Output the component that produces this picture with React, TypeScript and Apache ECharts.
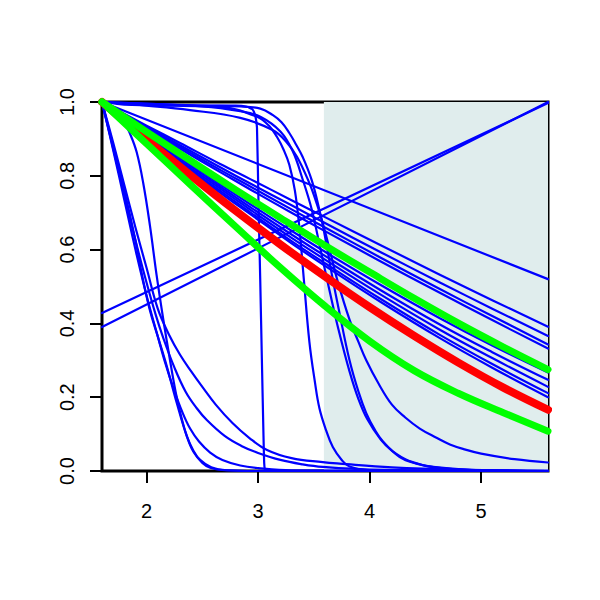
import React, { useEffect, useRef } from "react";
import * as echarts from "echarts";

// ---- axis ticks ----
const xTickValues = [2, 3, 4, 5];
const xMin = 1.6;
const xMax = 5.6;
const shadeFrom = 3.59;

// ---- early steep curves ----
const L1 = [[1.6,1],[1.7,0.89],[1.8,0.775],[1.9,0.66],[2.0,0.55],[2.1,0.44],[2.2,0.37],[2.3,0.315],[2.4,0.27],[2.5,0.228],[2.62,0.18],[2.77,0.13],[2.92,0.09],[3.08,0.057],[3.3,0.035],[3.58,0.024],[3.73,0.02],[4.2,0.01],[4.8,0.004],[5.6,0.001]];
const L2 = [[1.6,1],[1.7,0.875],[1.8,0.75],[1.9,0.625],[2.0,0.51],[2.08,0.425],[2.15,0.36],[2.25,0.28],[2.35,0.215],[2.45,0.17],[2.54,0.138],[2.7,0.095],[2.85,0.068],[3.0,0.049],[3.2,0.03],[3.4,0.018],[3.58,0.011],[4.0,0.004],[5.6,0]];
const L3 = [[1.6,1],[1.7,0.87],[1.8,0.735],[1.9,0.6],[2.0,0.475],[2.1,0.365],[2.17,0.29],[2.24,0.225],[2.32,0.16],[2.39,0.115],[2.47,0.08],[2.57,0.05],[2.68,0.03],[2.84,0.015],[3.0,0.008],[3.3,0.002],[5.6,0]];
const L4 = [[1.6,1],[1.7,0.88],[1.8,0.76],[1.9,0.625],[1.96,0.53],[2.03,0.435],[2.1,0.365],[2.18,0.285],[2.27,0.185],[2.36,0.095],[2.42,0.055],[2.48,0.03],[2.58,0.01],[2.72,0.002],[3.0,0],[5.6,0]];
const L5 = [[1.6,1],[1.68,0.99],[1.75,0.97],[1.8,0.945],[1.85,0.915],[1.91,0.865],[1.97,0.78],[2.03,0.665],[2.09,0.53],[2.15,0.41],[2.21,0.3],[2.26,0.215],[2.3,0.16],[2.36,0.095],[2.42,0.052],[2.5,0.022],[2.57,0.009],[2.7,0.002],[3.0,0],[5.6,0]];

// ---- late sigmoid drops ----
const VD = [[1.6,1],[1.8,0.993],[2.5,0.99],[2.8,0.99],[2.9,0.987],[2.95,0.98],[2.975,0.962],[2.99,0.93],[3.004,0.72],[3.019,0.52],[3.034,0.3],[3.048,0.1],[3.055,0.02],[3.065,0.003],[3.15,0],[5.6,0]];
const S1 = [[1.6,1],[2.3,0.99],[2.68,0.986],[2.99,0.96],[3.1,0.935],[3.17,0.905],[3.23,0.87],[3.28,0.83],[3.33,0.76],[3.37,0.66],[3.41,0.52],[3.46,0.35],[3.51,0.24],[3.55,0.17],[3.61,0.11],[3.67,0.065],[3.75,0.03],[3.82,0.012],[4.0,0.002],[5.6,0]];
const S2 = [[1.6,1],[2.5,0.99],[2.84,0.988],[3.02,0.982],[3.13,0.965],[3.21,0.945],[3.28,0.916],[3.34,0.885],[3.4,0.851],[3.48,0.789],[3.55,0.707],[3.61,0.62],[3.66,0.535],[3.73,0.428],[3.82,0.3],[3.9,0.215],[3.97,0.157],[4.05,0.11],[4.12,0.08],[4.27,0.038],[4.42,0.02],[4.57,0.011],[5.0,0.002],[5.6,0]];
const S3 = [[1.6,1],[2.5,0.988],[2.84,0.975],[3.02,0.96],[3.2,0.92],[3.31,0.867],[3.4,0.79],[3.48,0.71],[3.56,0.6],[3.64,0.49],[3.72,0.385],[3.82,0.27],[3.9,0.195],[3.98,0.14],[4.1,0.085],[4.2,0.055],[4.35,0.028],[4.6,0.009],[5.0,0.002],[5.6,0]];
const S4 = [[1.6,1],[2.0,0.99],[2.39,0.978],[2.84,0.957],[3.13,0.924],[3.25,0.893],[3.35,0.851],[3.46,0.78],[3.52,0.73],[3.58,0.672],[3.65,0.59],[3.71,0.518],[3.82,0.41],[3.9,0.35],[3.97,0.3],[4.08,0.237],[4.2,0.18],[4.32,0.145],[4.45,0.115],[4.6,0.09],[4.72,0.072],[4.86,0.058],[5.0,0.047],[5.3,0.032],[5.6,0.023]];

// ---- straight lines ----
const D1 = [[1.6,1],[5.6,0.52]];
const R1 = [[1.6,0.428],[5.6,0.997]];
const R2 = [[1.6,0.39],[5.6,1.0]];

// ---- gradual bundle ----
const bundleX = [1.6, 2.0, 2.3, 2.66, 2.93, 3.3, 3.6, 4.1, 4.63, 5.1, 5.6];
const B1 = [1, 0.936, 0.889, 0.832, 0.791, 0.734, 0.688, 0.612, 0.532, 0.463, 0.391];
const B2 = [1, 0.933, 0.883, 0.823, 0.779, 0.72, 0.672, 0.593, 0.511, 0.44, 0.366];
const B3 = [1, 0.93, 0.878, 0.816, 0.771, 0.709, 0.66, 0.578, 0.493, 0.42, 0.343];
const B4 = [1, 0.927, 0.873, 0.81, 0.763, 0.7, 0.65, 0.568, 0.483, 0.409, 0.332];
const B5 = [1, 0.914, 0.851, 0.777, 0.723, 0.651, 0.594, 0.504, 0.414, 0.34, 0.267];
const B6 = [1, 0.912, 0.847, 0.771, 0.715, 0.641, 0.583, 0.49, 0.397, 0.322, 0.247];
const B7 = [1, 0.908, 0.842, 0.765, 0.708, 0.632, 0.573, 0.478, 0.383, 0.306, 0.228];
const B8 = [1, 0.906, 0.838, 0.759, 0.701, 0.623, 0.563, 0.466, 0.369, 0.29, 0.211];
const B9 = [1, 0.904, 0.835, 0.754, 0.696, 0.617, 0.556, 0.458, 0.36, 0.28, 0.2];

// ---- highlighted curves ----
const hiX = [1.6, 2.0, 2.4, 2.8, 3.2, 3.6, 4.0, 4.4, 4.8, 5.2, 5.6];
const redY = [1, 0.898, 0.8, 0.705, 0.614, 0.527, 0.444, 0.366, 0.293, 0.226, 0.166];
const greenUpperY = [1, 0.919, 0.84, 0.762, 0.686, 0.611, 0.539, 0.468, 0.4, 0.336, 0.275];
const greenLowerY = [1, 0.887, 0.774, 0.662, 0.551, 0.447, 0.352, 0.272, 0.21, 0.158, 0.108];

const toPairs = (xs: number[], ys: number[]) => ys.map((y, i) => [xs[i], y]);
const bundle = [B1, B2, B3, B4, B5, B6, B7, B8, B9].map((ys) => toPairs(bundleX, ys));
const blueCurves = [L1, L2, L3, L4, L5, S1, S2, S3, S4, D1, R1, R2, ...bundle];

const FONT = "'Liberation Sans', Arial, Helvetica, sans-serif";

export default function App() {
  const ref = useRef<HTMLDivElement>(null);
  useEffect(() => {
    document.body.style.margin = "0";
    const chart = echarts.init(ref.current!, null, { renderer: "svg" });
    const lineSeries = (data: number[][], color: string, width: number, z: number, smooth: number) => ({
      type: "line",
      data,
      showSymbol: false,
      symbol: "none",
      clip: false,
      silent: true,
      smooth,
      z,
      lineStyle: { color, width, cap: "round", join: "round" },
    });
    chart.setOption({
      animation: false,
      backgroundColor: "#ffffff",
      grid: {
        left: 102,
        top: 102,
        right: 52,
        bottom: 129,
        show: true,
        borderColor: "#000",
        borderWidth: 3,
        backgroundColor: "transparent",
      },
      xAxis: {
        type: "value",
        min: xMin,
        max: xMax,
        axisLine: { show: false },
        axisTick: {
          show: true,
          customValues: xTickValues,
          length: 12,
          lineStyle: { color: "#000", width: 2 },
        },
        axisLabel: {
          customValues: xTickValues,
          margin: 30,
          fontSize: 20,
          color: "#000",
          fontFamily: FONT,
        },
        splitLine: { show: false },
      },
      yAxis: {
        type: "value",
        min: 0,
        max: 1,
        interval: 0.2,
        axisLine: { show: false },
        axisTick: { show: true, length: 12, lineStyle: { color: "#000", width: 2 } },
        axisLabel: {
          rotate: 90,
          margin: 25,
          fontSize: 20,
          color: "#000",
          fontFamily: FONT,
          formatter: (v: number) => v.toFixed(1),
        },
        splitLine: { show: false },
      },
      series: [
        {
          type: "line",
          data: [[shadeFrom, 0]],
          symbol: "none",
          lineStyle: { opacity: 0 },
          silent: true,
          z: 1,
          markArea: {
            silent: true,
            itemStyle: { color: "#E0EDED" },
            data: [[{ xAxis: shadeFrom, yAxis: 0 }, { xAxis: xMax, yAxis: 1 }]],
          },
        },
        lineSeries(VD, "#0000FF", 2.2, 3, 0.15),
        ...blueCurves.map((d) => lineSeries(d, "#0000FF", 2.2, 3, 0.4)),
        lineSeries(toPairs(hiX, redY), "#FF0000", 8, 4, 0.4),
        lineSeries(toPairs(hiX, greenUpperY), "#00FF00", 7, 5, 0.4),
        lineSeries(toPairs(hiX, greenLowerY), "#00FF00", 7, 5, 0.4),
      ],
    });
    return () => chart.dispose();
  }, []);
  return <div ref={ref} style={{ width: 600, height: 600 }} />;
}
